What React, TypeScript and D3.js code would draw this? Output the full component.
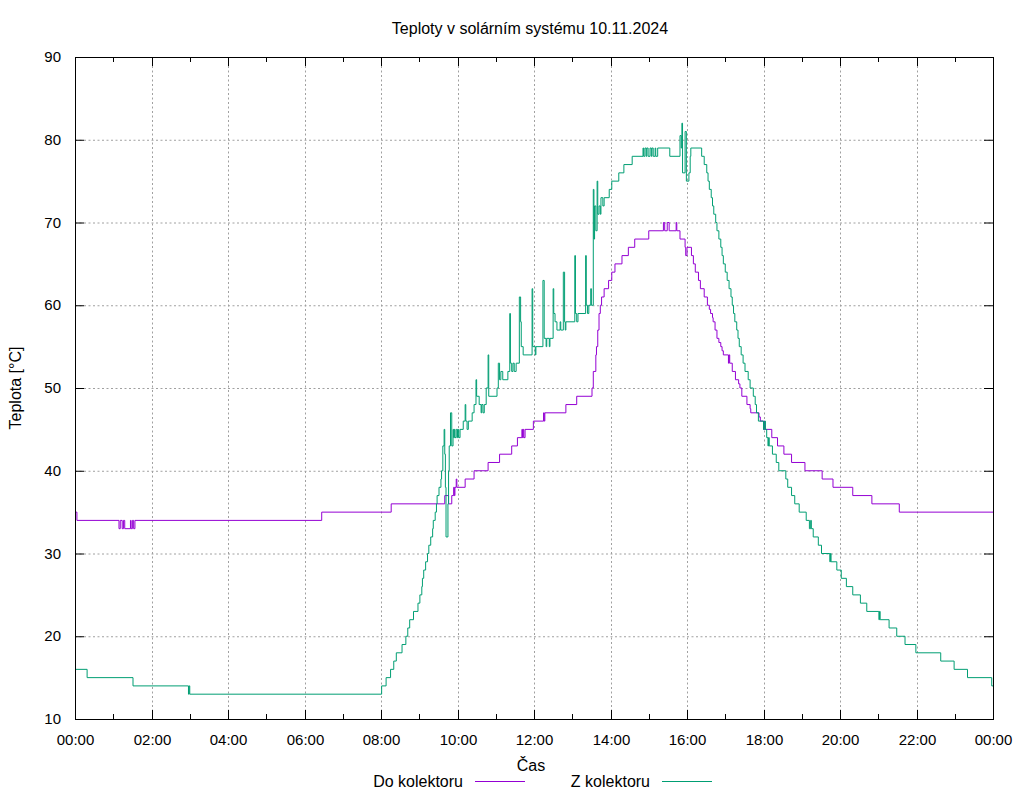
import React from "react";
import * as d3 from "d3";

const chartTitle = "Teploty v solárním systému 10.11.2024";
const xAxisTitle = "Čas";
const yAxisTitle = "Teplota [°C]";
const seriesNames = ["Do kolektoru", "Z kolektoru"];
const seriesColors = ["#9400d3", "#009e73"];
const yTicks = [10, 20, 30, 40, 50, 60, 70, 80, 90];
const xMajorTicks = ["00:00", "02:00", "04:00", "06:00", "08:00", "10:00", "12:00", "14:00", "16:00", "18:00", "20:00", "22:00", "24:00"];
const xMinorTicks = ["01:00", "03:00", "05:00", "07:00", "09:00", "11:00", "13:00", "15:00", "17:00", "19:00", "21:00", "23:00"];

const doKolektoru: [string, number][] = [
  ["00:00", 35], ["00:03", 34], ["01:09", 33], ["01:11", 34], ["01:14", 33], ["01:16", 34], ["01:18", 33],
  ["01:27", 34], ["01:28", 33], ["01:30", 34], ["01:32", 33], ["01:34", 34],
  ["06:27", 35], ["08:16", 36], ["09:40", 37], ["09:46", 36], ["09:51", 37], ["09:54", 38], ["09:55", 37],
  ["09:56", 38], ["09:58", 39], ["09:59", 38], ["10:12", 39], ["10:26", 40], ["10:48", 41], ["11:06", 42],
  ["11:25", 43], ["11:34", 44], ["11:41", 45], ["11:42", 44], ["11:43", 45], ["11:44", 44], ["11:46", 45],
  ["11:59", 46], ["12:15", 47], ["12:16", 46], ["12:17", 47], ["12:50", 48], ["13:07", 49], ["13:31", 50],
  ["13:33", 52], ["13:37", 54], ["13:38", 55], ["13:40", 57], ["13:42", 59], ["13:44", 60], ["13:46", 61],
  ["13:50", 62], ["13:57", 63], ["14:02", 64], ["14:07", 65], ["14:18", 66], ["14:28", 67], ["14:38", 68],
  ["15:00", 69], ["15:23", 70], ["15:25", 69], ["15:29", 70], ["15:32", 69], ["15:43", 70], ["15:44", 69],
  ["15:49", 68], ["15:57", 67], ["15:58", 66], ["16:00", 67], ["16:07", 66], ["16:10", 65], ["16:13", 64],
  ["16:18", 63], ["16:21", 62], ["16:27", 61], ["16:32", 60], ["16:35", 59.5], ["16:37", 59], ["16:40", 58.5],
  ["16:41", 58], ["16:44", 57], ["16:47", 56], ["16:50", 55.5], ["16:53", 55], ["16:55", 54.5], ["16:57", 54],
  ["17:05", 53], ["17:06", 54], ["17:07", 53], ["17:11", 52], ["17:16", 51], ["17:21", 50.5], ["17:23", 50],
  ["17:26", 49], ["17:34", 48], ["17:39", 47.5], ["17:40", 47], ["17:53", 46.5], ["17:55", 46], ["18:00", 45],
  ["18:01", 46], ["18:02", 45], ["18:13", 44], ["18:22", 43], ["18:32", 42], ["18:44", 41], ["19:05", 40],
  ["19:32", 39], ["19:49", 38], ["20:20", 37], ["20:50", 36], ["21:33", 35], ["24:00", 35],
];

const zKolektoru: [string, number][] = [
  ["00:00", 16], ["00:19", 15], ["01:31", 14], ["02:58", 13], ["02:59", 14], ["03:00", 13],
  ["08:01", 14], ["08:08", 15], ["08:15", 16], ["08:20", 17], ["08:24", 18], ["08:33", 19], ["08:39", 20],
  ["08:42", 21], ["08:45", 22], ["08:51", 23], ["08:58", 24], ["09:01", 25], ["09:04", 26], ["09:05", 27],
  ["09:07", 28], ["09:10", 29], ["09:13", 30], ["09:15", 31], ["09:18", 32], ["09:21", 33], ["09:22", 34],
  ["09:25", 35], ["09:27", 36], ["09:28", 37], ["09:31", 38], ["09:34", 39], ["09:35", 40], ["09:37", 43],
  ["09:39", 45], ["09:40", 42], ["09:41", 38], ["09:42", 32], ["09:45", 36], ["09:46", 40], ["09:47", 43],
  ["09:49", 47], ["09:51", 43], ["09:53", 45], ["09:54", 44], ["09:55", 45], ["09:56", 44], ["09:58", 45],
  ["10:00", 44], ["10:01", 45], ["10:02", 44], ["10:04", 45], ["10:09", 46], ["10:12", 48], ["10:13", 46],
  ["10:15", 45], ["10:17", 46], ["10:23", 47], ["10:26", 48], ["10:29", 51], ["10:30", 49], ["10:34", 48],
  ["10:37", 47], ["10:38", 48], ["10:40", 47], ["10:42", 48], ["10:45", 50], ["10:48", 54], ["10:49", 49],
  ["11:02", 50], ["11:04", 53], ["11:06", 51], ["11:08", 52], ["11:11", 51], ["11:19", 52], ["11:22", 59],
  ["11:23", 53], ["11:25", 52], ["11:27", 53], ["11:29", 52], ["11:32", 53], ["11:37", 61], ["11:39", 58],
  ["11:40", 55], ["11:43", 54], ["11:57", 62], ["11:58", 55], ["12:02", 54], ["12:03", 55], ["12:14", 63],
  ["12:16", 56], ["12:19", 55], ["12:20", 56], ["12:24", 55], ["12:25", 56], ["12:30", 62], ["12:31", 59],
  ["12:33", 58], ["12:36", 57], ["12:41", 58], ["12:42", 57], ["12:46", 64], ["12:48", 58], ["12:49", 57],
  ["12:50", 58], ["13:04", 66], ["13:05", 59], ["13:07", 58], ["13:09", 59], ["13:21", 66], ["13:22", 60],
  ["13:24", 59], ["13:26", 60], ["13:29", 62], ["13:30", 60], ["13:33", 74], ["13:34", 68], ["13:35", 72],
  ["13:37", 69], ["13:39", 75], ["13:40", 71], ["13:42", 72], ["13:44", 71], ["13:45", 73], ["13:48", 72],
  ["13:50", 73], ["13:58", 74], ["14:02", 75], ["14:13", 76], ["14:21", 77], ["14:34", 78], ["14:51", 79],
  ["14:52", 78], ["14:54", 79], ["14:56", 78], ["14:57", 79], ["14:59", 78], ["15:02", 79], ["15:04", 78],
  ["15:05", 79], ["15:07", 78], ["15:10", 79], ["15:11", 78], ["15:14", 79], ["15:33", 78], ["15:49", 80.5],
  ["15:51", 79], ["15:52", 82], ["15:53", 76], ["15:57", 81], ["15:59", 75], ["16:03", 76], ["16:05", 78],
  ["16:06", 79], ["16:23", 78], ["16:27", 77], ["16:31", 76], ["16:33", 75], ["16:35", 74], ["16:38", 73],
  ["16:40", 72], ["16:42", 71], ["16:45", 70], ["16:47", 69], ["16:50", 68], ["16:53", 67], ["16:55", 66],
  ["16:57", 65], ["17:00", 64], ["17:03", 63], ["17:06", 62], ["17:09", 61], ["17:11", 60], ["17:13", 59],
  ["17:15", 58], ["17:18", 57], ["17:20", 56], ["17:22", 55], ["17:25", 54], ["17:28", 53], ["17:31", 52],
  ["17:36", 51], ["17:39", 50], ["17:44", 49], ["17:47", 48], ["17:49", 47], ["17:52", 46], ["18:00", 45],
  ["18:02", 46], ["18:03", 45], ["18:05", 44], ["18:07", 43], ["18:08", 44], ["18:09", 43], ["18:14", 42],
  ["18:20", 41], ["18:24", 40], ["18:35", 39], ["18:38", 38], ["18:44", 37], ["18:49", 36], ["18:56", 35],
  ["19:07", 34], ["19:12", 33], ["19:14", 34], ["19:15", 33], ["19:18", 32], ["19:26", 31], ["19:31", 30],
  ["19:44", 29], ["19:45", 30], ["19:46", 29], ["19:55", 28], ["20:02", 27], ["20:10", 26], ["20:20", 25],
  ["20:32", 24], ["20:42", 23], ["21:01", 22], ["21:02", 23], ["21:03", 22], ["21:17", 21], ["21:29", 20],
  ["21:42", 19], ["21:59", 18], ["22:38", 17], ["22:59", 16], ["23:20", 15], ["23:58", 14], ["24:00", 14],
];

const toMin = (s: string) => {
  const [h, m] = s.split(":").map(Number);
  return h * 60 + m;
};

export default function App() {
  const W = 1024, H = 800;
  const left = 75, right = 993, top = 57, bottom = 719;
  const x = d3.scaleLinear().domain([0, 1440]).range([left, right]);
  const y = d3.scaleLinear().domain([10, 90]).range([bottom, top]);
  const line = d3
    .line<[string, number]>()
    .x((d) => x(toMin(d[0])))
    .y((d) => y(d[1]))
    .curve(d3.curveStepAfter);
  const font = "'Liberation Sans', Arial, sans-serif";
  const fs = 15;
  const fsLabel = 16;
  const series = [doKolektoru, zKolektoru];
  const gridColor = "#a0a0a0";
  const major = 9, minor = 5;

  return (
    <svg width={W} height={H} style={{ position: "absolute", left: 0, top: 0, background: "#fff" }} fontFamily={font}>
      <rect x={0} y={0} width={W} height={H} fill="#fff" />
      {yTicks.slice(1, -1).map((v) => (
        <line key={"gy" + v} x1={left} x2={right} y1={y(v) + 0.5} y2={y(v) + 0.5} stroke={gridColor} strokeWidth={1} strokeDasharray="2,2.5" />
      ))}
      {xMajorTicks.slice(1, -1).map((t) => (
        <line key={"gx" + t} x1={Math.round(x(toMin(t))) + 0.5} x2={Math.round(x(toMin(t))) + 0.5} y1={top} y2={bottom} stroke={gridColor} strokeWidth={1} strokeDasharray="2,2.5" />
      ))}
      {yTicks.map((v) => (
        <g key={"ty" + v}>
          <line x1={left} x2={left + major} y1={y(v) + 0.5} y2={y(v) + 0.5} stroke="#000" />
          <line x1={right - major} x2={right} y1={y(v) + 0.5} y2={y(v) + 0.5} stroke="#000" />
          <text x={61} y={y(v) + 5} textAnchor="end" fontSize={fs} fill="#000">{v}</text>
        </g>
      ))}
      {xMajorTicks.map((t) => {
        const px = Math.round(x(toMin(t))) + 0.5;
        return (
          <g key={"tx" + t}>
            <line x1={px} x2={px} y1={bottom} y2={bottom - major} stroke="#000" />
            <line x1={px} x2={px} y1={top} y2={top + major} stroke="#000" />
            <text x={px} y={745} textAnchor="middle" fontSize={fs} fill="#000">{t === "24:00" ? "00:00" : t}</text>
          </g>
        );
      })}
      {xMinorTicks.map((t) => {
        const px = Math.round(x(toMin(t))) + 0.5;
        return (
          <g key={"mx" + t}>
            <line x1={px} x2={px} y1={bottom} y2={bottom - minor} stroke="#000" />
            <line x1={px} x2={px} y1={top} y2={top + minor} stroke="#000" />
          </g>
        );
      })}
      {series.map((s, i) => (
        <path key={"s" + i} d={line(s) || ""} fill="none" stroke={seriesColors[i]} strokeWidth={1} />
      ))}
      <rect x={left + 0.5} y={top + 0.5} width={right - left} height={bottom - top} fill="none" stroke="#000" strokeWidth={1} />
      <text x={530} y={34} textAnchor="middle" fontSize={fsLabel} fill="#000">{chartTitle}</text>
      <text x={531} y={771} textAnchor="middle" fontSize={fsLabel} fill="#000">{xAxisTitle}</text>
      <text transform={`translate(21,${(top + bottom) / 2}) rotate(-90)`} textAnchor="middle" fontSize={fsLabel} fill="#000">{yAxisTitle}</text>
      <text x={463} y={787} textAnchor="end" fontSize={fsLabel} fill="#000">{seriesNames[0]}</text>
      <line x1={475} x2={525} y1={781.5} y2={781.5} stroke={seriesColors[0]} strokeWidth={1} />
      <text x={650} y={787} textAnchor="end" fontSize={fsLabel} fill="#000">{seriesNames[1]}</text>
      <line x1={662} x2={712} y1={781.5} y2={781.5} stroke={seriesColors[1]} strokeWidth={1} />
    </svg>
  );
}
